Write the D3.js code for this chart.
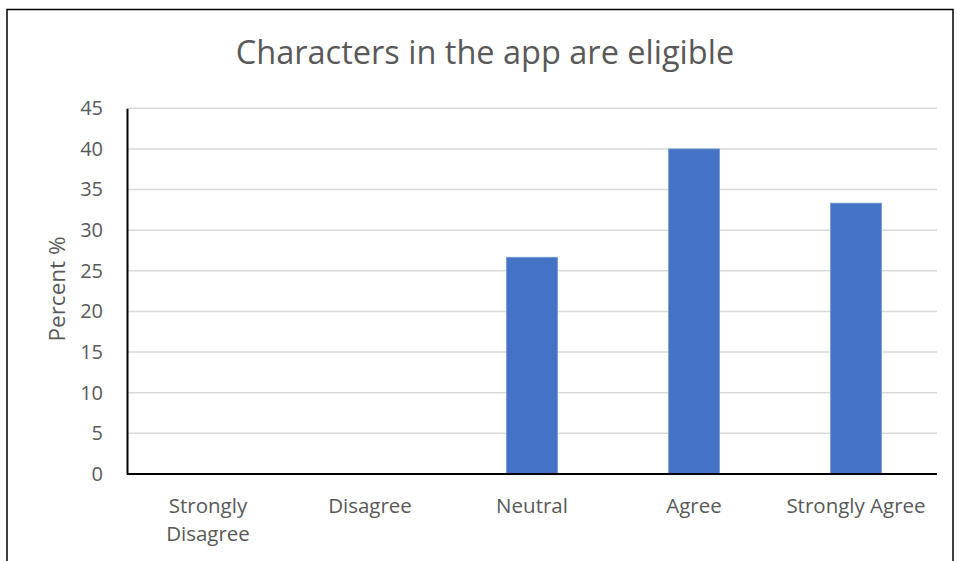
<!DOCTYPE html>
<html>
<head>
<meta charset="utf-8">
<script src="https://cdn.jsdelivr.net/npm/d3@7"></script>
<style>
  html, body { margin: 0; padding: 0; background: #fff; }
  svg { display: block; }
  text { font-family: "Open Sans", "Noto Sans", sans-serif; fill: #595959; }
</style>
</head>
<body>
<svg id="chart" width="957" height="561"></svg>
<script>
// Survey responses for "Characters in the app are eligible"
const categories = ["Strongly Disagree", "Disagree", "Neutral", "Agree", "Strongly Agree"];
const categoryLines = [["Strongly", "Disagree"], ["Disagree"], ["Neutral"], ["Agree"], ["Strongly Agree"]];
const percents = [0, 0, 26.67, 40, 33.33];
const yTicks = [0, 5, 10, 15, 20, 25, 30, 35, 40, 45];
const title = "Characters in the app are eligible";
const yLabel = "Percent %";

const svg = d3.select("#chart");
const W = 957, H = 561;
const m = { left: 127, right: 20, top: 108.3, bottom: 87 };

// outer chart frame
svg.append("rect")
  .attr("x", 7).attr("y", 9.5)
  .attr("width", 946).attr("height", 560)
  .attr("fill", "#fff").attr("stroke", "#000").attr("stroke-width", 1.5);

const x = d3.scaleBand()
  .domain(categories)
  .range([m.left, W - m.right])
  .paddingInner(0.685).paddingOuter(0.3425);

const y = d3.scaleLinear()
  .domain([0, 45])
  .range([H - m.bottom, m.top]);

// horizontal gridlines
svg.append("g")
  .selectAll("line")
  .data(yTicks.filter(d => d > 0))
  .join("line")
  .attr("x1", m.left).attr("x2", W - m.right)
  .attr("y1", d => y(d)).attr("y2", d => y(d))
  .attr("stroke", "#d9d9d9").attr("stroke-width", 1.5);

// bars
svg.append("g")
  .selectAll("rect")
  .data(categories.map((c, i) => ({ c, v: percents[i] })).filter(d => d.v > 0))
  .join("rect")
  .attr("x", d => x(d.c))
  .attr("y", d => y(d.v))
  .attr("width", x.bandwidth())
  .attr("height", d => y(0) - y(d.v))
  .attr("fill", "#4472c4")
  .attr("stroke", "#7a9ad6").attr("stroke-width", 0.8);

// y axis
const yAxis = svg.append("g")
  .attr("transform", `translate(${m.left},0)`)
  .call(d3.axisLeft(y).tickValues(yTicks).tickSize(0).tickPadding(24));
yAxis.select(".domain").attr("stroke", "#000").attr("stroke-width", 2);
yAxis.selectAll("text").attr("font-size", 20).style("fill", "#595959")
  .attr("font-family", "'Open Sans', sans-serif");

// x axis
const xAxis = svg.append("g")
  .attr("transform", `translate(0,${y(0)})`)
  .call(d3.axisBottom(x).tickSize(0).tickFormat(""));
xAxis.select(".domain").attr("stroke", "#000").attr("stroke-width", 2)
  .attr("d", `M${m.left},0H${W - m.right}`);

// category labels (wrapped)
const catG = svg.append("g");
categories.forEach((c, i) => {
  const t = catG.append("text")
    .attr("x", x(c) + x.bandwidth() / 2)
    .attr("y", y(0) + 39)
    .attr("text-anchor", "middle")
    .attr("font-size", 20.5);
  categoryLines[i].forEach((line, j) => {
    t.append("tspan")
      .attr("x", x(c) + x.bandwidth() / 2)
      .attr("dy", j === 0 ? 0 : 28)
      .text(line);
  });
});

// title
svg.append("text")
  .attr("x", 485).attr("y", 64)
  .attr("text-anchor", "middle")
  .attr("font-size", 32.5)
  .text(title);

// y axis label
svg.append("text")
  .attr("transform", `translate(65,289) rotate(-90)`)
  .attr("text-anchor", "middle")
  .attr("font-size", 22.5)
  .text(yLabel);
</script>
</body>
</html>
